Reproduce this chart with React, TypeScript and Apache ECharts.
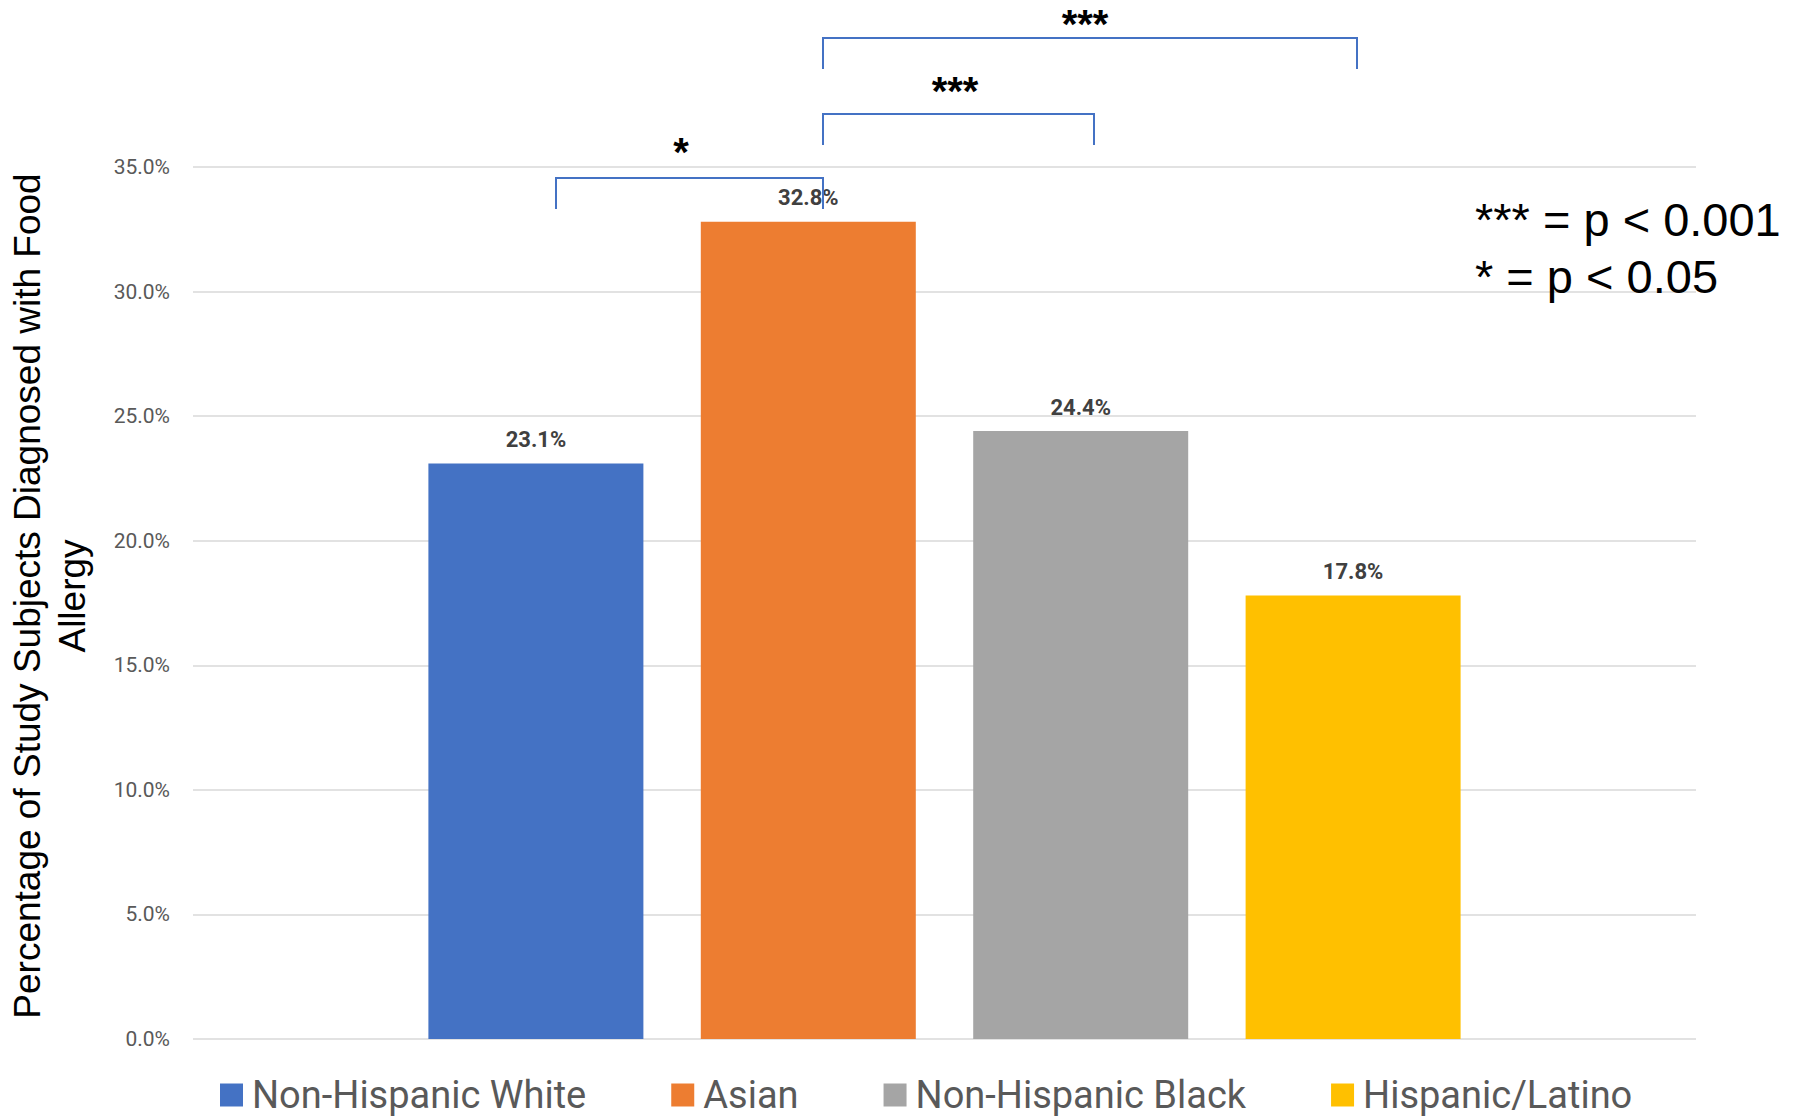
import React, { useEffect, useRef } from "react";
import * as echarts from "echarts";

// Share of study subjects diagnosed with food allergy, by race/ethnicity
const GROUPS = ["Non-Hispanic White", "Asian", "Non-Hispanic Black", "Hispanic/Latino"];
const ALLERGY_PCT = [23.1, 32.8, 24.4, 17.8];
const GROUP_COLORS = ["#4472C4", "#ED7D31", "#A5A5A5", "#FFC000"];

// Y axis range (percent)
const Y_MIN = 0;
const Y_MAX = 35;
const Y_STEP = 5;

const Y_TITLE = ["Percentage of Study Subjects Diagnosed with Food", "Allergy"];
const SIG_KEY = ["*** = p < 0.001", "* = p < 0.05"];

// Pairwise comparison brackets drawn above the bars (overlay geometry in px)
const BRACKETS = [
  { label: "*", x1: 556, x2: 823, y: 178, leg: 31, labelX: 681, labelY: 152 },
  { label: "***", x1: 823, x2: 1094, y: 114, leg: 31, labelX: 955, labelY: 91 },
  { label: "***", x1: 823, x2: 1357, y: 38, leg: 31, labelX: 1085, labelY: 24 },
];

const W = 1798;
const H = 1118;

export default function App() {
  const ref = useRef<HTMLDivElement>(null);

  useEffect(() => {
    document.body.style.margin = "0";
    if (!ref.current) return;
    const chart = echarts.init(ref.current, null, { renderer: "svg" });

    const bracketGraphics: any[] = [];
    BRACKETS.forEach((b) => {
      bracketGraphics.push({
        type: "polyline",
        shape: {
          points: [
            [b.x1, b.y + b.leg],
            [b.x1, b.y],
            [b.x2, b.y],
            [b.x2, b.y + b.leg],
          ],
        },
        style: { stroke: "#4472C4", lineWidth: 2, fill: null },
        z: 100,
      });
      bracketGraphics.push({
        type: "text",
        x: b.labelX,
        y: b.labelY,
        style: {
          text: b.label,
          align: "center",
          verticalAlign: "middle",
          fontFamily: "Liberation Sans",
          fontWeight: "bold",
          fontSize: 40,
          fill: "#000000",
        },
        z: 100,
      });
    });

    chart.setOption({
      animation: false,
      backgroundColor: "#ffffff",
      grid: { left: 193, right: W - 1696, top: 167, bottom: H - 1039 },
      legend: {
        left: 215,
        top: 1071,
        icon: "rect",
        itemWidth: 23,
        itemHeight: 23,
        itemGap: 85,
        data: GROUPS,
        textStyle: {
          fontFamily: "Roboto",
          fontSize: 38,
          color: "#595959",
          padding: [0, 0, 0, 4],
        },
      },
      xAxis: {
        type: "category",
        data: [""],
        axisLine: { show: false },
        axisTick: { show: false },
        axisLabel: { show: false },
      },
      yAxis: {
        type: "value",
        min: Y_MIN,
        max: Y_MAX,
        interval: Y_STEP,
        axisLine: { show: false },
        axisTick: { show: false },
        axisLabel: {
          formatter: (v: number) => v.toFixed(1) + "%",
          fontFamily: "Roboto",
          fontSize: 21,
          color: "#595959",
          margin: 23,
        },
        splitLine: { lineStyle: { color: "#d9d9d9", width: 1.5 } },
      },
      series: GROUPS.map((name, i) => ({
        type: "bar",
        name,
        data: [ALLERGY_PCT[i]],
        barWidth: 215,
        barGap: "26.7%",
        itemStyle: { color: GROUP_COLORS[i] },
        label: {
          show: true,
          position: "top",
          distance: 13,
          formatter: (p: any) => Number(p.value).toFixed(1) + "%",
          fontFamily: "Roboto",
          fontWeight: "bold",
          fontSize: 22,
          color: "#404040",
        },
      })),
      graphic: [
        {
          type: "text",
          x: 50,
          y: 596,
          rotation: Math.PI / 2,
          style: {
            text: Y_TITLE.join("\n"),
            align: "center",
            verticalAlign: "middle",
            fontFamily: "Liberation Sans",
            fontSize: 37,
            lineHeight: 45,
            fill: "#000000",
          },
        },
        {
          type: "text",
          x: 1475,
          y: 219,
          style: {
            text: SIG_KEY[0],
            align: "left",
            verticalAlign: "middle",
            fontFamily: "Liberation Sans",
            fontSize: 47,
            fill: "#000000",
          },
          z: 100,
        },
        {
          type: "text",
          x: 1475,
          y: 276,
          style: {
            text: SIG_KEY[1],
            align: "left",
            verticalAlign: "middle",
            fontFamily: "Liberation Sans",
            fontSize: 47,
            fill: "#000000",
          },
          z: 100,
        },
        ...bracketGraphics,
      ],
    });

    return () => chart.dispose();
  }, []);

  return (
    <div
      ref={ref}
      style={{ position: "fixed", left: 0, top: 0, width: W, height: H }}
    />
  );
}
